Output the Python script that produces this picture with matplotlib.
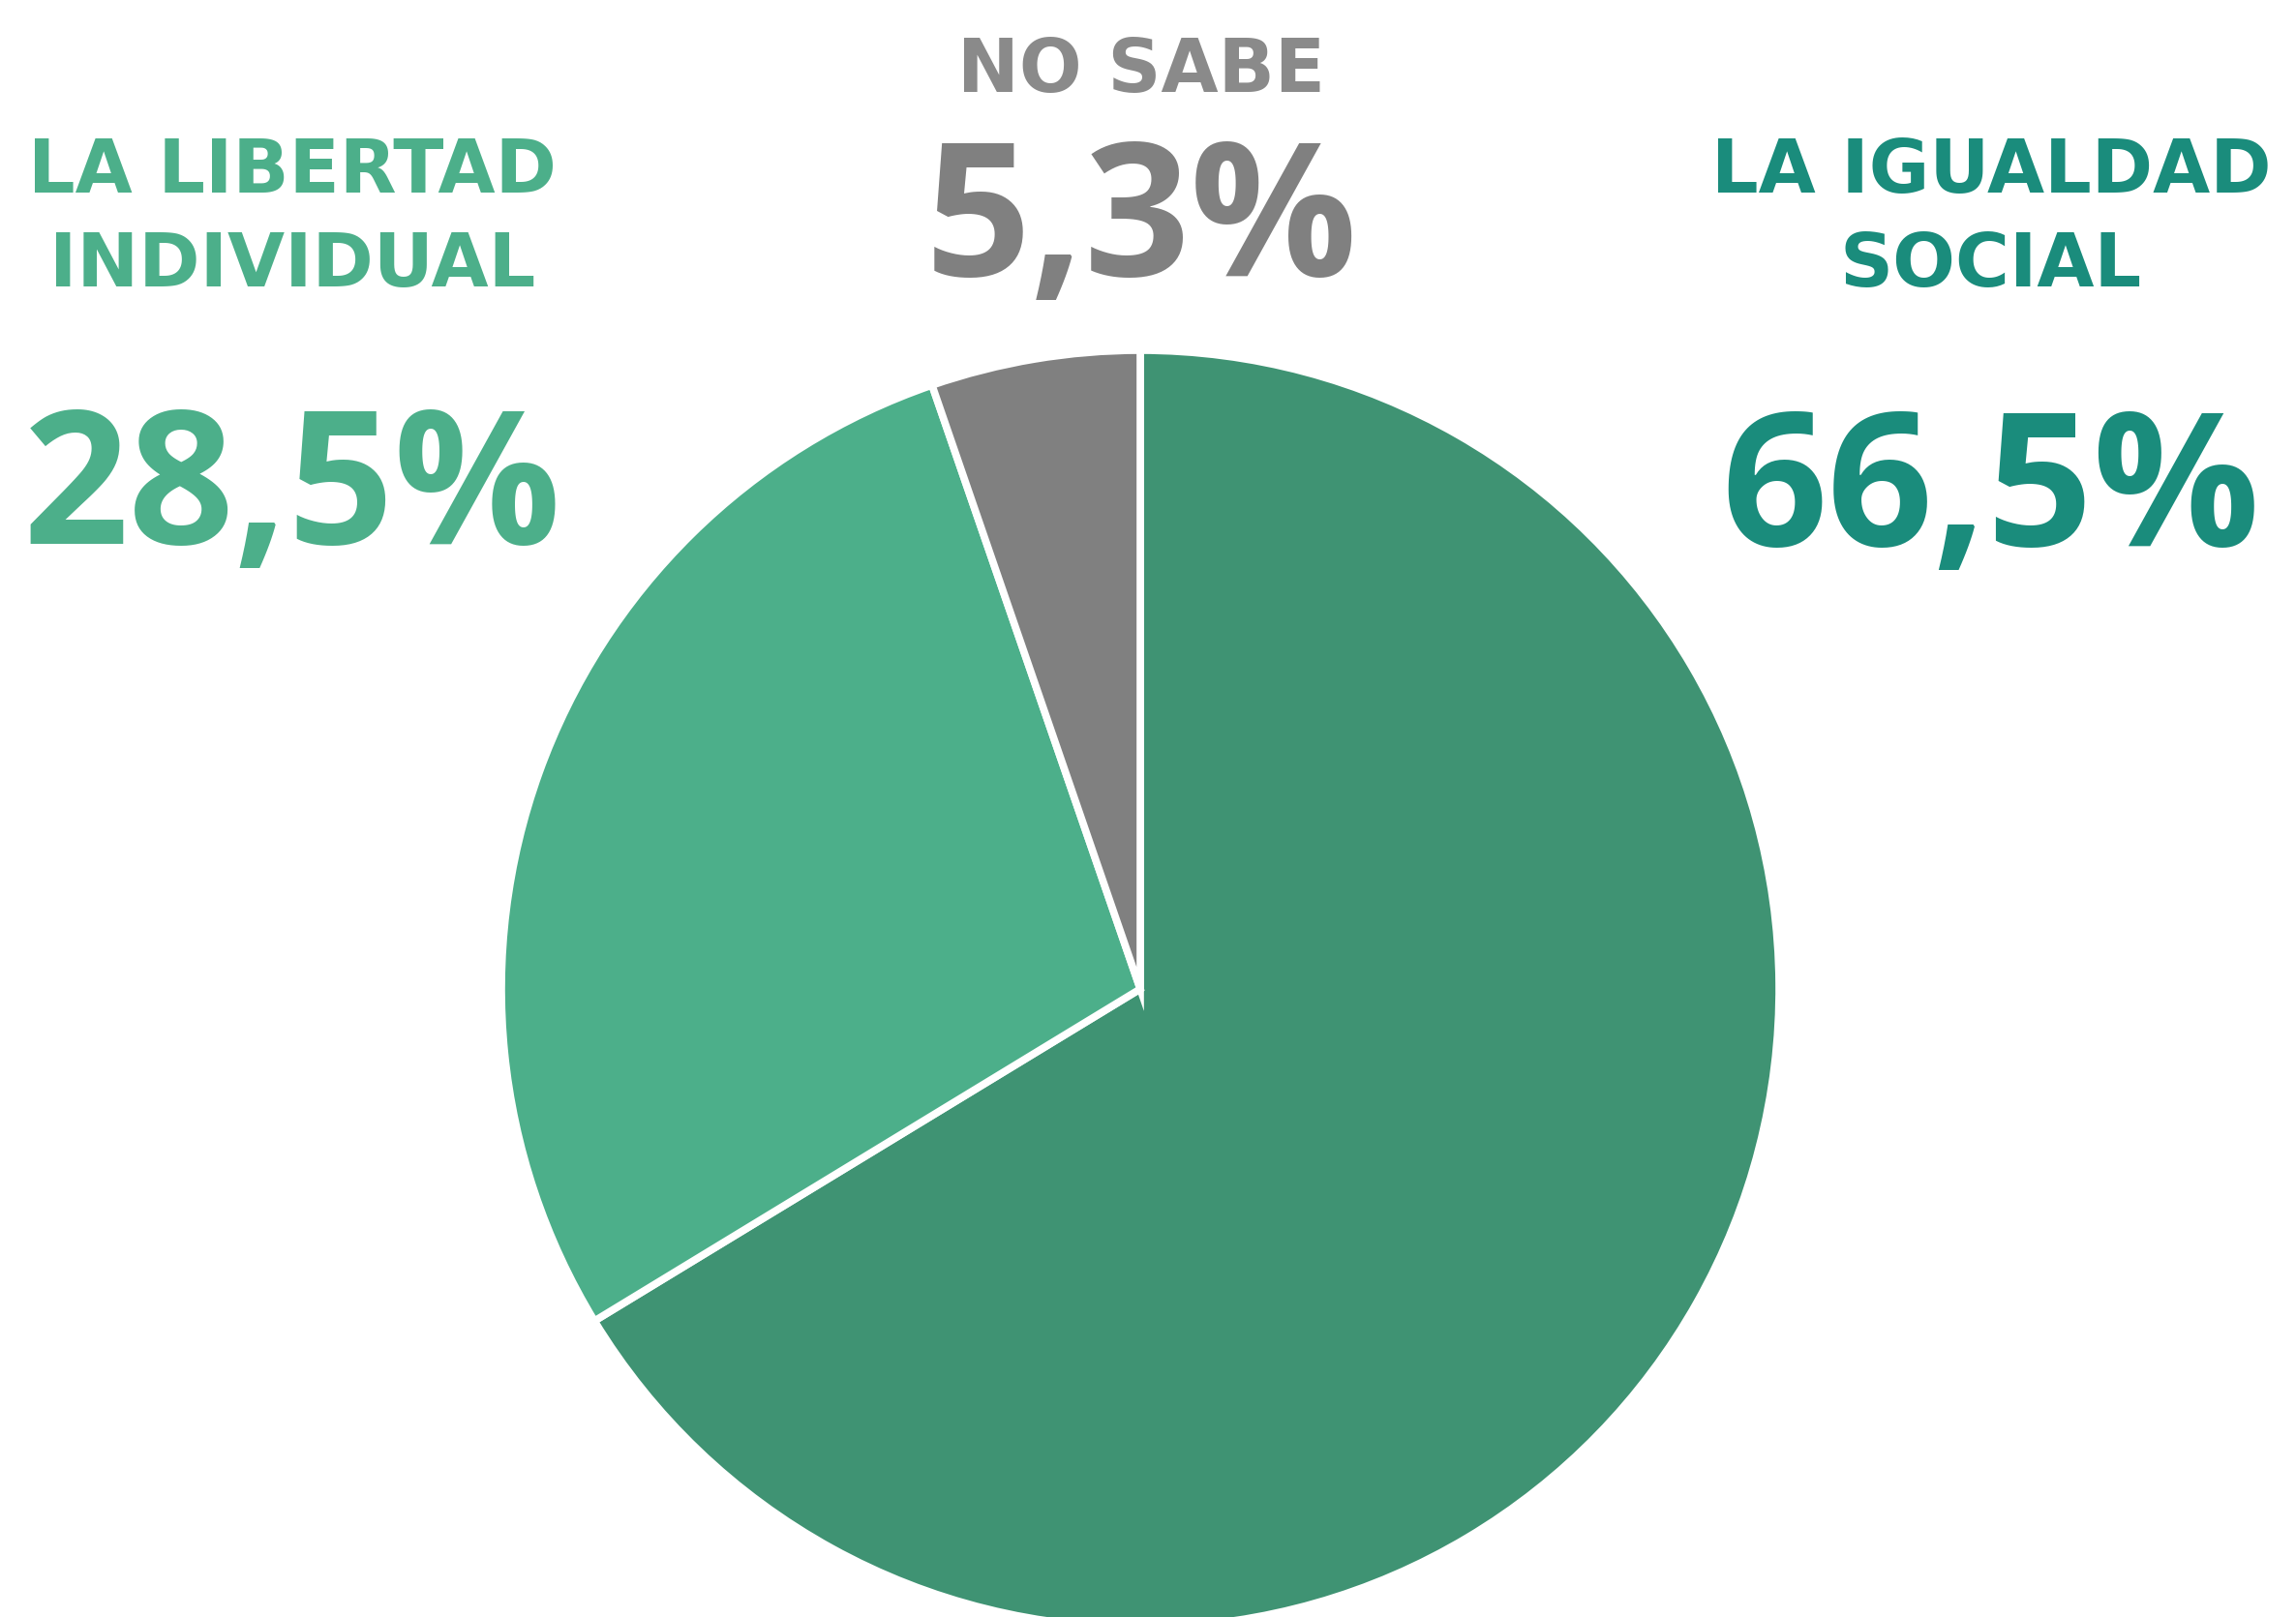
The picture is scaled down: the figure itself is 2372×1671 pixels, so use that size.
import matplotlib
matplotlib.use("Agg")
import matplotlib.pyplot as plt

# Data
labels_line1 = ["LA IGUALDAD", "LA LIBERTAD", "NO SABE"]
labels_line2 = ["SOCIAL", "INDIVIDUAL", ""]
values = [66.5, 28.5, 5.3]
value_labels = ["66,5%", "28,5%", "5,3%"]
slice_colors = ["#3f9373", "#4caf8a", "#808080"]
text_colors = ["#1a8c7c", "#4caf8a", "#8a8a8a"]
number_colors = ["#1a8c7c", "#4caf8a", "#808080"]

W, H = 2372, 1671
fig = plt.figure(figsize=(W / 100, H / 100), dpi=100)
ax = fig.add_axes([0, 0, 1, 1])

ax.pie(values, colors=slice_colors, startangle=90, counterclock=False,
       center=(1178, H - 1022), radius=660,
       wedgeprops=dict(edgecolor="white", linewidth=5.5, joinstyle="miter"))
ax.set_xlim(0, W)
ax.set_ylim(0, H)
ax.set_aspect("equal")
ax.axis("off")

label_font = dict(family=["DejaVu Sans"], fontweight="bold")
number_font = dict(family=["Open Sans", "DejaVu Sans"], fontweight="bold")

# text positions (pixel coords from top)
positions = {
    0: dict(x=2057, y1=170, y2=267, yn=491),
    1: dict(x=302, y1=170, y2=267, yn=489),
    2: dict(x=1179, y1=66, y2=None, yn=212),
}
for i in range(3):
    p = positions[i]
    ax.text(p["x"], H - p["y1"], labels_line1[i], color=text_colors[i],
            fontsize=55, ha="center", va="center_baseline", **label_font)
    if labels_line2[i]:
        ax.text(p["x"], H - p["y2"], labels_line2[i], color=text_colors[i],
                fontsize=55, ha="center", va="center_baseline", **label_font)
    ax.text(p["x"], H - p["yn"], value_labels[i], color=number_colors[i],
            fontsize=138, ha="center", va="center_baseline", **number_font)

fig.savefig("out.png", dpi=100)
